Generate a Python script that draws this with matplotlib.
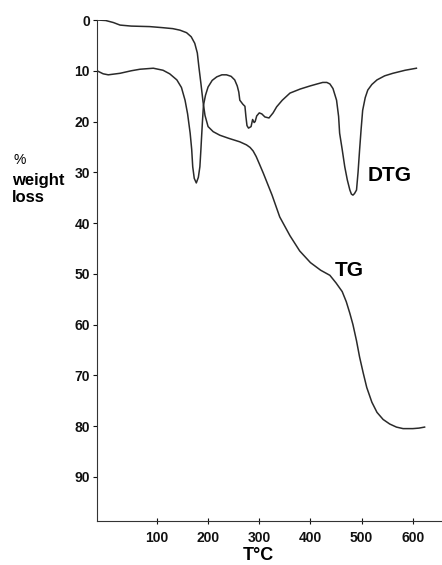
import matplotlib.pyplot as plt

# TG curve: temperature (deg C) and % weight loss
tg_temp = [-17, 0, 15, 28, 50, 86, 110, 131, 145, 158, 167, 174, 179, 182,
           186, 190, 194, 200, 210, 223, 240, 262, 275, 282, 288, 294, 300,
           308, 325, 340, 360, 379, 400, 420, 438, 450, 462, 470, 477, 483,
           490, 496, 503, 510, 520, 530, 542, 555, 568, 581, 600, 612, 623]
tg_loss = [0, 0.1, 0.5, 1.0, 1.2, 1.3, 1.5, 1.7, 2.0, 2.5, 3.3, 4.6, 6.5, 9.2,
           12.5, 16.0, 18.8, 21.0, 22.0, 22.7, 23.3, 24.0, 24.6, 25.1, 25.8,
           26.9, 28.3, 30.2, 34.5, 38.8, 42.5, 45.5, 47.8, 49.3, 50.3, 51.8,
           53.5, 55.5, 57.8, 60.0, 63.2, 66.4, 69.5, 72.4, 75.3, 77.3, 78.7,
           79.6, 80.2, 80.5, 80.5, 80.4, 80.2]

# DTG curve (plotted on the same scale)
dtg_temp = [-17, -5, 5, 28, 50, 67, 93, 112, 125, 139, 148, 155, 160, 165,
            168, 170, 173, 177, 181, 184, 186, 187, 189, 191, 195, 200, 208,
            217, 227, 236, 245, 252, 257, 260, 262, 268, 272, 274, 276, 279,
            284, 287, 290, 292, 295, 300, 305, 311, 319, 327, 334, 345, 360,
            380, 399, 413, 424, 432, 438, 444, 451, 455, 457, 462, 467, 472,
            477, 480, 483, 486, 490, 493, 496, 499, 502, 507, 512, 520, 530,
            545, 561, 585, 607]
dtg_val = [10.0, 10.6, 10.8, 10.5, 10.0, 9.7, 9.5, 9.9, 10.6, 11.8, 13.3, 15.8,
           18.5, 22.3, 25.5, 28.9, 31.2, 32.1, 31.0, 28.9, 25.5, 23.6, 20.0,
           16.8, 14.8, 13.2, 11.9, 11.2, 10.8, 10.8, 11.1, 11.8, 13.0, 14.2,
           15.8, 16.6, 17.0, 19.1, 20.8, 21.3, 21.0, 19.6, 20.2, 20.0, 18.9,
           18.3, 18.5, 19.1, 19.3, 18.3, 17.1, 15.8, 14.4, 13.6, 13.0, 12.6,
           12.3, 12.3, 12.6, 13.5, 15.8, 19.0, 22.3, 25.5, 28.9, 31.5, 33.5,
           34.3, 34.5, 34.2, 33.5, 30.0, 25.6, 21.5, 17.8, 15.3, 13.8, 12.7,
           11.8, 11.0, 10.5, 9.9, 9.5]

x_ticks = [100, 200, 300, 400, 500, 600]
y_ticks = [0, 10, 20, 30, 40, 50, 60, 70, 80, 90]

plt.rcParams['font.family'] = 'Liberation Sans'

fig = plt.figure(figsize=(4.42, 5.65), dpi=100)
ax = fig.add_axes([97 / 442, 1 - 521 / 565, (442 - 97) / 442, (521 - 20) / 565])

ax.plot(tg_temp, tg_loss, color='#2a2a2a', lw=1.1)
ax.plot(dtg_temp, dtg_val, color='#2a2a2a', lw=1.1)

ax.set_xlim(-17, 657)
ax.set_ylim(98.7, 0)
ax.set_xticks(x_ticks)
ax.set_yticks(y_ticks)
ax.tick_params(axis='y', direction='out', length=3, width=0.8, pad=2,
               labelsize=10, colors='#111')
ax.tick_params(axis='x', direction='inout', length=5, width=0.8, pad=5,
               labelsize=10, colors='#111')
for lab in ax.get_xticklabels() + ax.get_yticklabels():
    lab.set_fontweight('bold')

for s in ['top', 'right']:
    ax.spines[s].set_visible(False)
for s in ['left', 'bottom']:
    ax.spines[s].set_color('#333')
    ax.spines[s].set_linewidth(0.8)

ax.text(555, 30.6, 'DTG', fontsize=15, fontweight='bold', ha='center', va='center')
ax.text(475, 49.3, 'TG', fontsize=15, fontweight='bold', ha='center', va='center')

fig.text(13 / 442, 1 - 160 / 565, '%', fontsize=10, ha='left', va='center')
fig.text(12 / 442, 1 - 181 / 565, 'weight', fontsize=12, fontweight='bold',
         ha='left', va='center')
fig.text(12 / 442, 1 - 198 / 565, 'loss', fontsize=12, fontweight='bold',
         ha='left', va='center')
fig.text(258 / 442, 1 - 556 / 565, 'T°C', fontsize=13, fontweight='bold',
         ha='center', va='center')

fig.savefig('out.png', dpi=100)
